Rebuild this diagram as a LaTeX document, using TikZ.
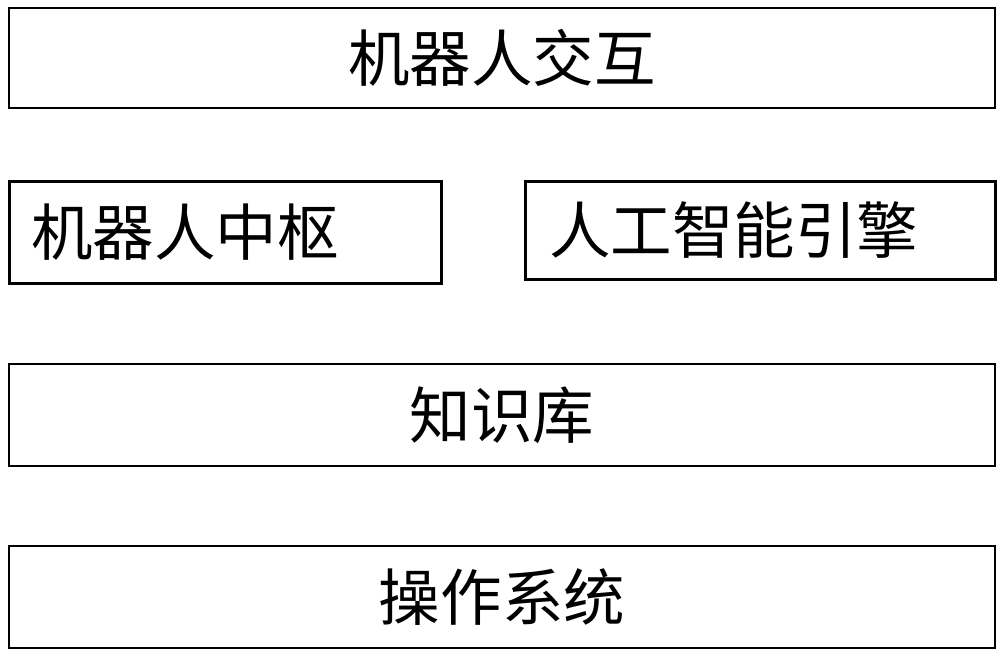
\documentclass[tikz,border=0pt]{standalone}
\usepackage{fontspec}
\newfontfamily\cjk{Noto Sans CJK SC}
\usepackage{tikz}

\begin{document}
\begin{tikzpicture}
	\useasboundingbox (0,0) rectangle (20,-13.16);
	\begin{scope}[every node/.style={draw,line width=1.6pt,inner sep=0pt,
	              font=\cjk\fontsize{35}{38}\selectfont}]
		\node[minimum width=19.72cm,minimum height=2cm] (interact) at (10.04,-1.16) {机器人交互};
		\node[minimum height=2.04cm,text width=7.76cm,inner xsep=0.44cm,align=left,anchor=north west] (hub) at (0.16,-3.6) {机器人中枢};
		\node[minimum height=1.96cm,text width=8.44cm,inner xsep=0.48cm,align=left,anchor=north west] (ai) at (10.48,-3.6) {人工智能引擎};
		\node[minimum width=19.72cm,minimum height=2.04cm] (kb) at (10.04,-8.3) {知识库};
		\node[minimum width=19.72cm,minimum height=2.04cm] (os) at (10.04,-11.94) {操作系统};
	\end{scope}
\end{tikzpicture}
\end{document}
